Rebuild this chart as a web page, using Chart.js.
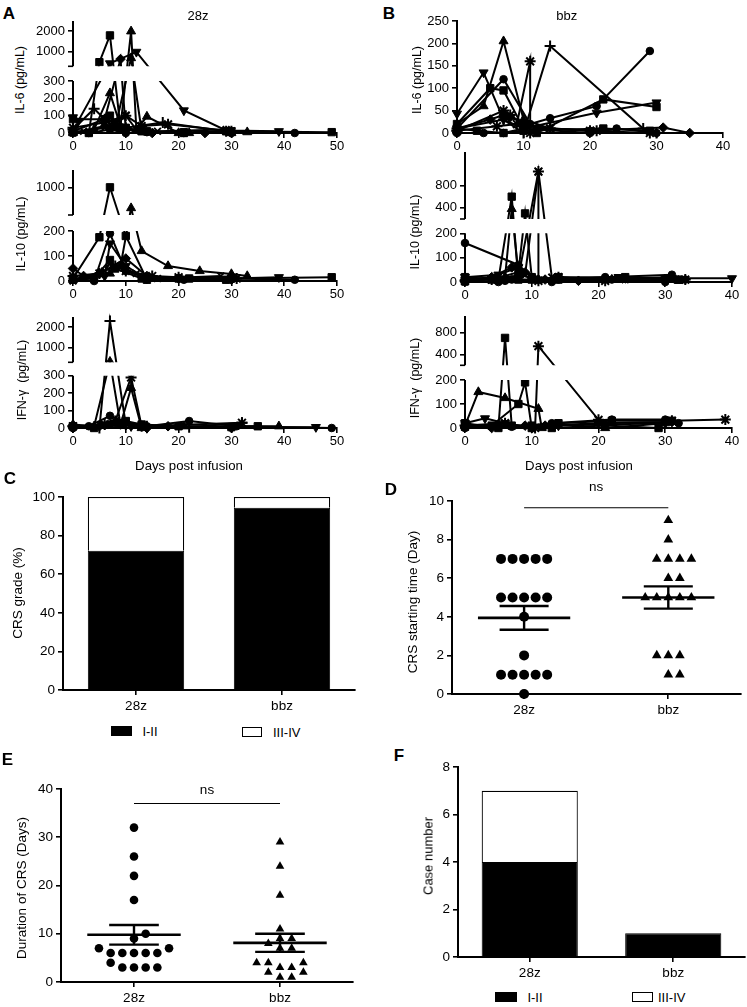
<!DOCTYPE html>
<html>
<head>
<meta charset="utf-8">
<script src="https://cdn.jsdelivr.net/npm/chart.js@4.4.0/dist/chart.umd.min.js"></script>
<style>
  html, body { margin: 0; padding: 0; background: #fff; }
  #fig { position: relative; width: 747px; height: 1007px; overflow: hidden;
         font-family: 'Liberation Sans', Arial, sans-serif; color: #000; }
  #fig canvas { position: absolute; }
  .t { position: absolute; white-space: pre; line-height: 1; transform: translate(-50%, -50%); font-size: 12.5px; }
  .v { transform: translate(-50%, -50%) rotate(-90deg); }
  .big { font-weight: bold; font-size: 17px; }
  .box { position: absolute; box-sizing: border-box; border: 1.5px solid #000; }
</style>
</head>
<body>
<div id="fig"></div>
<script>
// ---------- data ----------
const groups = ['28z', 'bbz'];
const dayTicks28z = [0, 10, 20, 30, 40, 50];
const dayTicksBbz = [0, 10, 20, 30, 40];

// A: 28z, IL-6
const il6Days28z = [[0,3,5,7,9,14,21,29,49],[0,4,7,9,11,12,14,20,33],[0,1,7,12,21,29,39],[0,4,6,10,17,29],
  [0,3,7,10,14,21,30,42],[0,6,10,13,18,30],[0,6,9,10,15,25,30],[0,6,7,8,10,13,21,30],[0,6,8,11,13,22,30],[0,2,6,7,10,12,16,29]];
const il6Vals28z = [[10,0,500,1800,30,10,0,10,5],[5,20,230,40,2000,20,95,0,5],[90,70,440,1000,130,15,10],[20,140,80,30,60,10],
  [0,0,20,0,5,0,0,0],[30,60,100,40,50,10],[10,80,650,20,0,0,0],[80,80,100,60,30,10,5,10],[0,40,30,700,10,0,0],[0,10,30,50,100,20,10,20]];
const il6Marks28z = ['rect','tri','down','plus','circle','star','diamond','rect','tri','x'];
const il6Ticks28z = [0, 100, 200, 300, 1000, 2000];

// A: 28z, IL-10
const il10Days28z = [[0,5,7,10,14,20,30,49],[0,7,9,11,13,18,24,30,33],[0,4,7,10,14,21,30,42],[0,2,5,10,14,20,30],
  [0,6,7,10,14,30,39],[0,4,7,8,13,22,29],[0,5,8,10,15,20,31],[0,6,7,12,16,28]];
const il10Vals28z = [[10,175,1000,180,5,10,10,15],[5,30,60,400,120,60,40,28,20],[10,0,190,40,10,5,10,5],[50,20,30,90,20,10,5],
  [10,20,150,60,10,10,15],[5,10,84,50,10,10,5],[20,30,60,40,20,15,10],[0,40,70,30,10,20]];
const il10Marks28z = ['rect','tri','circle','diamond','down','rect','star','x'];
const il10Ticks28z = [0, 100, 200, 1000];

// A: 28z, IFN-γ
const ifnDays28z = [[0,5,7,10,14,22,32],[0,4,7,9,11,13,21,39],[0,6,8,11,13,32],[0,3,7,10,14,22,31,49],
  [0,4,7,10,13,20,30,35],[0,6,8,11,14,30,46],[0,5,9,14,18,30]];
const ifnVals28z = [[10,0,2300,20,10,5,30],[20,10,330,20,230,0,10,10],[10,20,40,290,10,30],[0,10,70,30,10,40,10,0],
  [10,0,20,40,20,10,5,10],[5,20,30,10,0,5,5],[0,10,20,0,10,0]];
const ifnMarks28z = ['plus','tri','star','circle','rect','down','diamond'];
const ifnTicks28z = [0, 100, 200, 300, 1000, 2000];

// B: bbz, IL-6
const il6DaysBbz = [[0,4,7,10,21,30],[0,4,7,10,14,22],[0,7,10,14,28,30],[0,7,11,14,21,29],[0,5,7,10,12,22,30],
  [0,6,9,11,11,14,20,29],[0,5,7,8,12,20,31,35],[0,4,7,10,20,24,30],[0,7,8,10,14,21],[0,3,7,10,22,29]];
const il6ValsBbz = [[43,135,30,10,45,68],[20,60,205,30,10,5],[10,30,0,194,10,0],[10,120,20,33,60,183],[20,100,95,10,0,75,58],
  [5,15,20,160,0,10,5,0],[10,30,40,35,10,5,12,0],[0,0,0,10,0,10,0],[5,50,40,20,10,5],[10,5,0,5,10,5]];
const il6MarksBbz = ['down','tri','plus','circle','rect','star','diamond','circle','star','rect'];
const il6TicksBbz = [0, 50, 100, 150, 200, 250];

// B: bbz, IL-10
const il10DaysBbz = [[0,4,8,11,11,14,21,33],[0,9,11,13,24],[0,5,7,8,10,14,24,32],[0,6,7,8,11,22,32],[0,4,8,9,10,14,23],
  [0,8,10,14,21,31,33],[0,5,8,11,23,30,40],[0,4,7,9,12,17,24,31],[0,5,6,7,13,22,30]];
const il10ValsBbz = [[5,10,20,1050,5,20,5,10],[0,30,1050,20,10],[20,10,600,10,10,20,20,10],[10,20,380,30,10,10,5],[5,10,40,300,20,10,15],
  [160,70,20,10,20,30,10],[20,30,60,10,20,15,15],[10,20,60,40,10,5,15,20],[0,0,5,10,0,10,0]];
const il10MarksBbz = ['star','x','rect','tri','rect','circle','down','diamond','circle'];
const il10TicksBbz = [0, 100, 200, 400, 800];

// B: bbz, IFN-γ
const ifnDaysBbz = [[0,5,6,7,10,13,21,29],[0,6,10.5,11,20,31,39],[0,2,6,11,11.5,21,30],[0,4,8,9,10,14,22,31],
  [0,3,6,10,14,30],[0,5,7,13,22,30,32],[0,4,9,12,20,31]];
const ifnValsBbz = [[20,0,700,10,10,0,10,0],[10,20,0,550,34,30,35],[10,150,125,80,0,0,20],[5,10,100,190,0,20,30,30],
  [20,40,20,0,10,20],[0,10,5,20,35,35,20],[5,0,10,10,20,25]];
const ifnMarksBbz = ['rect','star','tri','rect','down','circle','diamond'];
const ifnTicksBbz = [0, 100, 200, 400, 800];

// C: CRS grade (%)
const gradeLow = [72.2, 94.4];
const gradeHigh = [27.8, 5.6];
// D: CRS starting time (day)
const startTime28z = [7,7,7,7,7,5,5,5,5,5,4,2,1,1,1,1,1,0];
const startTimeBbz = [9,8,7,7,7,7,6,6,5,5,5,5,5,2,2,2,1,1];
// E: duration of CRS (days)
const duration28z = [32,26,22,17,10,9,7,7,6,6,6,6,6,4,3,3,3,3];
const durationBbz = [29,24,18,11,9,9,8,7,7,4,4,4,3,3,2,2,1,1];
// F: case number
const casesLow = [4, 1];
const casesHigh = [3, 0];

// ---------- setup ----------
const FONT = "'Liberation Sans', Arial, sans-serif";
Chart.defaults.font.family = FONT;
Chart.defaults.font.size = 13;
Chart.defaults.color = '#000';
Chart.defaults.animation = false;
Chart.defaults.events = [];
Chart.defaults.plugins.legend.display = false;
Chart.defaults.plugins.tooltip.enabled = false;

const fig = document.getElementById('fig');

// linear scale with a Prism-style break: values <= at go to the lower part, the rest to the upper part
class BrokenScale extends Chart.LinearScale {
  buildTicks() {
    const t = this.options.tickValues;
    return t ? Array.from(t).map(v => ({ value: v })) : super.buildTicks();
  }
  getPixelForValue(v) {
    const k = this.options.brk;
    if (v === null || v === undefined) return NaN;
    if (!k) return super.getPixelForValue(v);
    if (v <= k.at) return this.bottom - (v - this.min) / (k.at - this.min) * k.lowH;
    return this.top + k.upH - (v - k.at) / (this.max - k.at) * k.upH;
  }
}
BrokenScale.id = 'broken';
BrokenScale.defaults = Chart.LinearScale.defaults;
Chart.register(BrokenScale);

const brokenAxis = {
  id: 'brokenAxis',
  beforeDatasetsDraw(chart) {
    const a = chart.chartArea, ctx = chart.ctx, k = chart.scales.y.options.brk;
    const x0 = a.left - 12, w = a.right - a.left + 24;
    ctx.save();
    ctx.beginPath();
    if (k) {
      ctx.rect(x0, a.top - 12, w, k.upH + 12);
      ctx.rect(x0, a.bottom - k.lowH, w, k.lowH + 12);
    } else {
      ctx.rect(x0, a.top - 12, w, a.bottom - a.top + 24);
    }
    ctx.clip();
  },
  afterDatasetsDraw(chart) { chart.ctx.restore(); },
  afterDraw(chart) {
    const k = chart.scales.y.options.brk;
    if (!k) return;
    const a = chart.chartArea, ctx = chart.ctx;
    ctx.save();
    ctx.strokeStyle = '#000';
    ctx.lineWidth = 2;
    ctx.beginPath();
    ctx.moveTo(a.left, a.top); ctx.lineTo(a.left, a.top + k.upH);
    ctx.moveTo(a.left, a.bottom - k.lowH); ctx.lineTo(a.left, a.bottom + 1);
    ctx.stroke();
    ctx.lineWidth = 1.6;
    ctx.beginPath();
    ctx.moveTo(a.left - 5, a.top + k.upH); ctx.lineTo(a.left, a.top + k.upH);
    ctx.stroke();
    ctx.restore();
  }
};

const nsLabel = {
  id: 'nsLabel',
  afterDatasetsDraw(chart, args, opts) {
    const ctx = chart.ctx;
    ctx.save();
    ctx.font = '13.5px ' + FONT;
    ctx.fillStyle = '#000';
    ctx.textAlign = 'center';
    ctx.textBaseline = 'middle';
    ctx.fillText('ns', chart.scales.x.getPixelForValue(1.5), chart.scales.y.getPixelForValue(opts.level) - opts.gap);
    ctx.restore();
  }
};

function txt(x, y, s, cls, size) {
  const d = document.createElement('div');
  d.className = 't ' + (cls || '');
  d.textContent = s;
  d.style.left = x + 'px';
  d.style.top = y + 'px';
  if (size) d.style.fontSize = size + 'px';
  fig.appendChild(d);
}

function box(x, y, w, h, fill) {
  const d = document.createElement('div');
  d.className = 'box';
  d.style.cssText = `left:${x}px;top:${y}px;width:${w}px;height:${h}px;background:${fill}`;
  fig.appendChild(d);
}

// canvas whose chart area lands on box {l,t,r,b}
function place(b, yw, xh, pt, pr) {
  const L = Math.round(b.l), T = Math.round(b.t), R = Math.round(b.r), B = Math.round(b.b);
  const c = document.createElement('canvas');
  const left = L - yw, top = T - pt, w = R - L + yw + pr, h = B - T + pt + xh;
  c.width = w; c.height = h;
  c.style.cssText = `left:${left}px;top:${top}px;width:${w}px;height:${h}px`;
  fig.appendChild(c);
  return { canvas: c, padding: { top: pt, right: pr, left: 0, bottom: 0 } };
}

function axis(size, extra) {
  return Object.assign({
    border: { display: true, color: '#000', width: 2 },
    grid: { display: true, drawOnChartArea: false, drawTicks: true, tickLength: 5, tickWidth: 1.6,
            tickColor: '#000', color: '#000', lineWidth: 1.6 },
    ticks: { color: '#000', padding: 3, font: { size: size }, callback: v => String(v) }
  }, extra);
}

const SHAPES = {
  circle: ['circle', 0, 3.8], rect: ['rect', 0, 5.2], tri: ['triangle', 0, 5.2], down: ['triangle', 180, 5.2],
  diamond: ['rectRot', 0, 4.8], plus: ['cross', 0, 5.5], x: ['crossRot', 0, 4.8], star: ['star', 0, 5.5]
};

function linePanel(p) {
  const YW = 46, XH = 24, PT = 14, PR = 16;
  const pl = place(p.box, YW, XH, PT, PR);
  const T = Math.round(p.box.t), B = Math.round(p.box.b);
  const brk = p.brkAt != null ? { at: p.brkAt, upH: p.box.upB - T, lowH: B - p.box.lowT } : null;
  const datasets = p.days.map((d, i) => {
    const s = SHAPES[p.marks[i]];
    return {
      data: d.map((x, j) => ({ x: x, y: p.vals[i][j] })),
      showLine: true, tension: 0, clip: false,
      borderColor: '#000', backgroundColor: '#000', borderWidth: 2,
      pointStyle: s[0], pointRotation: s[1], pointRadius: s[2],
      pointBorderWidth: (s[0] === 'cross' || s[0] === 'crossRot' || s[0] === 'star') ? 2 : 1,
      pointBackgroundColor: '#000', pointBorderColor: '#000'
    };
  });
  const xs = axis(13, {
    type: 'linear', min: 0, max: p.xTicks[p.xTicks.length - 1],
    afterBuildTicks: s => { s.ticks = p.xTicks.map(v => ({ value: v })); },
    afterFit: s => { s.height = XH; }
  });
  xs.ticks.padding = 1;
  const ys = axis(13, {
    type: 'broken', min: 0, max: p.yMax, tickValues: p.yTicks, brk: brk,
    afterFit: s => { s.width = YW; }
  });
  if (brk) ys.border = { display: false };
  new Chart(pl.canvas, {
    type: 'scatter',
    data: { datasets: datasets },
    options: { responsive: false, layout: { padding: pl.padding }, scales: { x: xs, y: ys } },
    plugins: [brokenAxis]
  });
}

function swarm(vals, tol) {
  const order = vals.map((v, i) => i).sort((a, b) => vals[a] - vals[b]);
  const cand = [0, 1, -1, 2, -2, 3, -3, 4, -4, 5, -5];
  const placed = [], slots = [];
  order.forEach(i => {
    const s = cand.find(c => !placed.some(q => q.s === c && Math.abs(q.v - vals[i]) < tol));
    slots[i] = s;
    placed.push({ s: s, v: vals[i] });
  });
  return slots;
}
const mean = a => a.reduce((s, v) => s + v, 0) / a.length;
const sem = a => {
  const m = mean(a);
  return Math.sqrt(a.reduce((s, v) => s + (v - m) * (v - m), 0) / (a.length - 1) / a.length);
};

function dotPanel(p) {
  const YW = 48, XH = 26, PT = 32, PR = 4;
  const pl = place(p.box, YW, XH, PT, PR);
  const seg = (pts, w) => ({ data: pts, showLine: true, borderColor: '#000', borderWidth: w, pointRadius: 0, clip: false });
  const datasets = [];
  p.series.forEach((vals, gi) => {
    const c = gi + 1;
    const slots = swarm(vals, p.tol);
    datasets.push({
      data: vals.map((v, j) => ({ x: c + slots[j] * 0.08, y: v })),
      pointStyle: p.shapes[gi], pointRadius: p.radius[gi], pointBorderWidth: 0,
      pointBackgroundColor: '#000', pointBorderColor: '#000', clip: false
    });
    const m = mean(vals), e = sem(vals);
    datasets.push(seg([{ x: c - 0.32, y: m }, { x: c + 0.32, y: m }], 2.6));
    datasets.push(seg([{ x: c, y: m - e }, { x: c, y: m + e }], 2.4));
    datasets.push(seg([{ x: c - 0.17, y: m + e }, { x: c + 0.17, y: m + e }], 2.4));
    datasets.push(seg([{ x: c - 0.17, y: m - e }, { x: c + 0.17, y: m - e }], 2.4));
  });
  datasets.push(seg([{ x: 1, y: p.nsLevel }, { x: 2, y: p.nsLevel }], 1.2));
  const xs = axis(13.5, {
    type: 'linear', min: 0.5, max: 2.5,
    afterBuildTicks: s => { s.ticks = [{ value: 1 }, { value: 2 }]; },
    afterFit: s => { s.height = XH; }
  });
  xs.ticks.callback = v => groups[v - 1];
  const ys = axis(13.5, {
    type: 'linear', min: 0, max: p.yMax, afterFit: s => { s.width = YW; }
  });
  ys.ticks.stepSize = p.yStep;
  new Chart(pl.canvas, {
    type: 'scatter',
    data: { datasets: datasets },
    options: { responsive: false, layout: { padding: pl.padding }, scales: { x: xs, y: ys },
               plugins: { nsLabel: { level: p.nsLevel, gap: p.nsGap } } },
    plugins: [nsLabel]
  });
}

function barPanel(p) {
  const YW = 48, XH = 26, PT = 14, PR = 4;
  const pl = place(p.box, YW, XH, PT, PR);
  const xs = axis(13.5, { stacked: true, afterFit: s => { s.height = XH; } });
  xs.grid.offset = false;
  xs.ticks.callback = function (v) { return this.getLabelForValue(v); };
  const ys = axis(13.5, { stacked: true, min: 0, max: p.yMax, afterFit: s => { s.width = YW; } });
  ys.ticks.stepSize = p.yStep;
  new Chart(pl.canvas, {
    type: 'bar',
    data: {
      labels: groups,
      datasets: [
        { label: 'I-II', data: p.low, backgroundColor: '#000', borderColor: '#000', borderWidth: 1 },
        { label: 'III-IV', data: p.high, backgroundColor: '#fff', borderColor: '#000', borderWidth: 1.2 }
      ]
    },
    options: {
      responsive: false, layout: { padding: pl.padding },
      datasets: { bar: { barPercentage: p.barPct, categoryPercentage: 1 } },
      scales: { x: xs, y: ys }
    }
  });
}

// ---------- panels A / B ----------
linePanel({ box: { l: 72.7, r: 336.7, t: 20.5, upB: 66.3, lowT: 81, b: 133 }, brkAt: 300, yMax: 2500,
  yTicks: il6Ticks28z, xTicks: dayTicks28z, days: il6Days28z, vals: il6Vals28z, marks: il6Marks28z });
linePanel({ box: { l: 72.7, r: 336.7, t: 170, upB: 215, lowT: 231, b: 281 }, brkAt: 200, yMax: 1500,
  yTicks: il10Ticks28z, xTicks: dayTicks28z, days: il10Days28z, vals: il10Vals28z, marks: il10Marks28z });
linePanel({ box: { l: 72.7, r: 336.7, t: 316.5, upB: 362.3, lowT: 375.7, b: 428.3 }, brkAt: 300, yMax: 2500,
  yTicks: ifnTicks28z, xTicks: dayTicks28z, days: ifnDays28z, vals: ifnVals28z, marks: ifnMarks28z });
linePanel({ box: { l: 456.7, r: 723.3, t: 20.7, b: 132.7 }, brkAt: null, yMax: 250,
  yTicks: il6TicksBbz, xTicks: dayTicksBbz, days: il6DaysBbz, vals: il6ValsBbz, marks: il6MarksBbz });
linePanel({ box: { l: 465, r: 731.7, t: 152, upB: 219, lowT: 233.3, b: 282.3 }, brkAt: 200, yMax: 1400,
  yTicks: il10TicksBbz, xTicks: dayTicksBbz, days: il10DaysBbz, vals: il10ValsBbz, marks: il10MarksBbz });
linePanel({ box: { l: 465, r: 731.7, t: 315.8, upB: 365.3, lowT: 380, b: 428.3 }, brkAt: 200, yMax: 1100,
  yTicks: ifnTicksBbz, xTicks: dayTicksBbz, days: ifnDaysBbz, vals: ifnValsBbz, marks: ifnMarksBbz });

// ---------- panels C-F ----------
barPanel({ box: { l: 63, r: 355, t: 497, b: 690 }, low: gradeLow, high: gradeHigh, yMax: 100, yStep: 20, barPct: 0.66 });
dotPanel({ box: { l: 451.7, r: 742, t: 500.5, b: 694 }, series: [startTime28z, startTimeBbz], shapes: ['circle', 'triangle'],
  radius: [5, 5.6], tol: 0.5, yMax: 10, yStep: 2, nsLevel: 9.65, nsGap: 20 });
dotPanel({ box: { l: 61, r: 354, t: 789, b: 982.3 }, series: [duration28z, durationBbz], shapes: ['circle', 'triangle'],
  radius: [4.3, 5], tol: 1.5, yMax: 40, yStep: 10, nsLevel: 37, nsGap: 13 });
barPanel({ box: { l: 458.3, r: 745, t: 767.3, b: 957 }, low: casesLow, high: casesHigh, yMax: 8, yStep: 2, barPct: 0.67 });

// ---------- text ----------
txt(8.8, 12.5, 'A', 'big');
txt(389, 12.5, 'B', 'big');
txt(10, 477.5, 'C', 'big');
txt(390.8, 489, 'D', 'big');
txt(7.5, 759, 'E', 'big');
txt(399, 755.3, 'F', 'big');
txt(198, 15, '28z', '', 13);
txt(566.7, 15, 'bbz', '', 13);
txt(20, 80, 'IL-6 (pg/mL)', 'v');
txt(21, 234, 'IL-10 (pg/mL)', 'v');
txt(21.7, 380, 'IFN-γ  (pg/mL)', 'v');
txt(416.7, 80, 'IL-6 (pg/mL)', 'v');
txt(415, 232, 'IL-10 (pg/mL)', 'v');
txt(415, 378, 'IFN-γ  (pg/mL)', 'v');
txt(189, 465.7, 'Days post infusion', '', 13.2);
txt(579, 465.7, 'Days post infusion', '', 13.2);
txt(18.3, 592.5, 'CRS grade (%)', 'v', 13.5);
txt(413.3, 601.7, 'CRS starting time (Day)', 'v', 13.5);
txt(21.7, 887.5, 'Duration of CRS (Days)', 'v', 13.5);
txt(428.3, 855.8, 'Case number', 'v', 13);

// legends
box(111, 726, 21, 10, '#000');
txt(150, 731, 'I-II', '', 13);
box(242, 727, 20, 10, '#fff');
txt(286.7, 732, 'III-IV', '', 13);
box(495, 992, 22, 10, '#000');
txt(535, 997, 'I-II', '', 13);
box(632, 992, 21, 10, '#fff');
txt(671.7, 997, 'III-IV', '', 13);
</script>
</body>
</html>
